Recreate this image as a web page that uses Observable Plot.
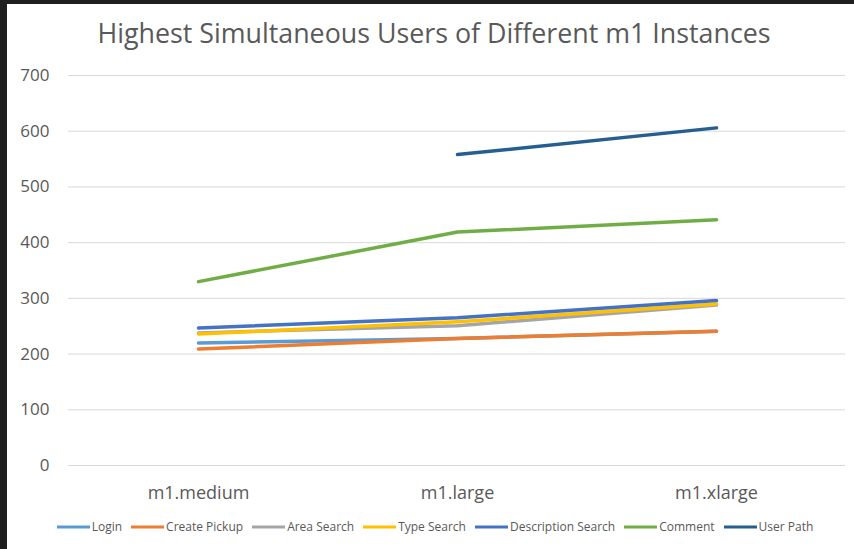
<!DOCTYPE html>
<html>
<head>
<meta charset="utf-8">
<script src="https://cdn.jsdelivr.net/npm/d3@7"></script>
<script src="https://cdn.jsdelivr.net/npm/@observablehq/plot@0.6"></script>
<style>
  html, body { margin: 0; padding: 0; width: 854px; height: 549px; overflow: hidden; background: #1f1f1f; }
  #panel { position: absolute; left: 7px; top: 4px; right: 0; bottom: 0; background: #ffffff; }
  #title { position: absolute; left: 0; width: 868px; top: 14px; text-align: center;
           font-family: "Open Sans", sans-serif; font-size: 26.8px; color: #595959; white-space: nowrap; }
  #chart { position: absolute; left: 0; top: 60px; }
  #legend { position: absolute; left: 3px; width: 873px; top: 518px; display: flex; justify-content: center;
            font-family: "Open Sans", sans-serif; font-size: 12px; color: #595959; white-space: nowrap; }
  .item { display: flex; align-items: center; margin-right: 9px; }
  .item svg { margin-right: 2px; }
</style>
</head>
<body>
<div id="panel"></div>
<div id="title">Highest Simultaneous Users of Different m1 Instances</div>
<div id="chart"></div>
<div id="legend"></div>
<script>
// Instance types along the x axis
const instances = ["m1.medium", "m1.large", "m1.xlarge"];

// Peak simultaneous users per scenario (null = not measured)
const login             = [220, 228, 241];
const createPickup      = [209, 228, 241];
const areaSearch        = [238, 251, 288];
const typeSearch        = [236, 258, 290];
const descriptionSearch = [247, 265, 296];
const comment           = [330, 419, 441];
const userPath          = [null, 558, 606];

const seriesNames = ["Login", "Create Pickup", "Area Search", "Type Search", "Description Search", "Comment", "User Path"];
const seriesValues = [login, createPickup, areaSearch, typeSearch, descriptionSearch, comment, userPath];
const seriesColors = ["#5b9bd5", "#ed7d31", "#a5a5a5", "#ffc000", "#4472c4", "#70ad47", "#255e91"];

const yTicks = [0, 100, 200, 300, 400, 500, 600, 700];

// Long-format rows for the line mark
const rows = [];
seriesNames.forEach((name, i) => {
  seriesValues[i].forEach((v, j) => {
    if (v != null) rows.push({series: name, instance: instances[j], users: v});
  });
});

const chart = Plot.plot({
  width: 854,
  height: 450,
  marginLeft: 68,
  marginRight: 9,
  marginTop: 15,
  marginBottom: 45,
  style: {fontFamily: "Open Sans, sans-serif", fontSize: "17px", color: "#595959", background: "transparent", overflow: "visible"},
  x: {type: "point", domain: instances, padding: 0.5, label: null},
  y: {domain: [0, 700], label: null},
  color: {domain: seriesNames, range: seriesColors},
  marks: [
    Plot.gridY(yTicks, {stroke: "#d9d9d9", strokeOpacity: 1, strokeWidth: 1}),
    Plot.axisY(yTicks, {tickSize: 0, tickPadding: 19, label: null, fontSize: 17}),
    Plot.axisX({tickSize: 0, tickPadding: 21, label: null, fontSize: 18}),
    Plot.line(rows, {x: "instance", y: "users", z: "series", stroke: "series",
                     strokeWidth: 3.5, strokeLinecap: "round", strokeLinejoin: "round"})
  ]
});
document.getElementById("chart").appendChild(chart);

// Line-swatch legend below the plot
const legend = document.getElementById("legend");
seriesNames.forEach((name, i) => {
  const item = document.createElement("div");
  item.className = "item";
  item.innerHTML = `<svg width="33" height="6"><line x1="0" y1="3" x2="33" y2="3" stroke="${seriesColors[i]}" stroke-width="3"/></svg><span>${name}</span>`;
  legend.appendChild(item);
});
</script>
</body>
</html>
